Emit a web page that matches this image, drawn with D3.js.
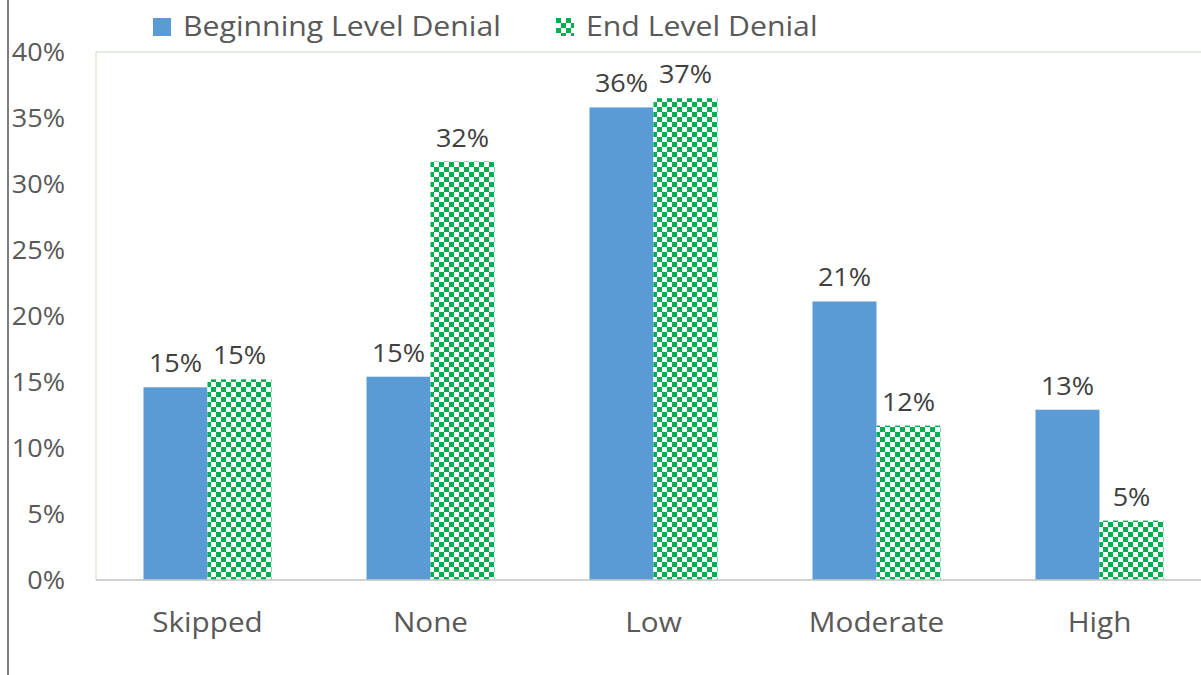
<!DOCTYPE html>
<html>
<head>
<meta charset="utf-8">
<script src="https://cdn.jsdelivr.net/npm/d3@7"></script>
<style>
  body { margin: 0; background: #fff; }
  text { font-family: "Open Sans", sans-serif; fill: #595959; }
</style>
</head>
<body>
<div id="chart"></div>
<script>
// chart data
var categories = ["Skipped", "None", "Low", "Moderate", "High"];
var seriesNames = ["Beginning Level Denial", "End Level Denial"];
var beginValues = [14.6, 15.4, 35.8, 21.1, 12.9];
var endValues = [15.2, 31.7, 36.5, 11.7, 4.5];
var beginLabels = ["15%", "15%", "36%", "21%", "13%"];
var endLabels = ["15%", "32%", "37%", "12%", "5%"];
var yTicks = [0, 5, 10, 15, 20, 25, 30, 35, 40];

var svgWidth = 1201;
var svgHeight = 675;
var margin = { top: 52, right: -10, bottom: 95, left: 96 };
var width = svgWidth - margin.left - margin.right;
var height = svgHeight - margin.top - margin.bottom;

// text in the source looks a bit wider than Open Sans
var sx = 1.1;

var svg = d3.select("#chart")
    .append("svg")
    .attr("width", svgWidth)
    .attr("height", svgHeight);

// checker pattern for the second series
var defs = svg.append("defs");
var pat = defs.append("pattern")
    .attr("id", "checker")
    .attr("patternUnits", "userSpaceOnUse")
    .attr("width", 10)
    .attr("height", 10);
pat.append("rect").attr("width", 10).attr("height", 10).attr("fill", "#fff");
pat.append("rect").attr("width", 5).attr("height", 5).attr("fill", "#00b050");
pat.append("rect").attr("x", 5).attr("y", 5).attr("width", 5).attr("height", 5).attr("fill", "#00b050");

// left frame line
svg.append("line")
    .attr("x1", 8).attr("x2", 8)
    .attr("y1", 0).attr("y2", svgHeight)
    .attr("stroke", "#7f7f7f")
    .attr("stroke-width", 2);

var chartGroup = svg.append("g")
    .attr("transform", `translate(${margin.left}, ${margin.top})`);

var x0 = d3.scaleBand()
    .domain(categories)
    .range([0, width])
    .paddingInner(0)
    .paddingOuter(0);

var x1 = d3.scaleBand()
    .domain(seriesNames)
    .range([x0.bandwidth() * 0.213, x0.bandwidth() * 0.787]);

var y = d3.scaleLinear()
    .domain([0, 40])
    .range([height, 0]);

// plot area border
chartGroup.append("rect")
    .attr("x", 0).attr("y", 0)
    .attr("width", width).attr("height", height)
    .attr("fill", "none")
    .attr("stroke", "#dcebd5")
    .attr("stroke-width", 1.5);

// y axis labels
var leftAxis = d3.axisLeft(y)
    .tickValues(yTicks)
    .tickFormat(d => d + "%")
    .tickSize(0)
    .tickPadding(31);

var yAxis = chartGroup.append("g").call(leftAxis);
yAxis.select(".domain").remove();
yAxis.selectAll("text")
    .attr("x", -31 / 1.08)
    .attr("transform", "scale(1.08,1)")
    .style("font-size", "25px")
    .attr("fill", "#595959");

var rows = categories.map((c, i) => ({
    cat: c,
    values: [
        { s: seriesNames[0], v: beginValues[i], label: beginLabels[i] },
        { s: seriesNames[1], v: endValues[i], label: endLabels[i] }
    ]
}));

var groups = chartGroup.selectAll(".grp")
    .data(rows)
    .enter()
    .append("g")
    .attr("transform", d => `translate(${x0(d.cat)}, 0)`);

groups.selectAll("rect")
    .data(d => d.values)
    .enter()
    .append("rect")
    .attr("x", d => x1(d.s))
    .attr("y", d => y(d.v))
    .attr("width", x1.bandwidth())
    .attr("height", d => height - y(d.v))
    .attr("fill", (d, i) => i === 0 ? "#5b9bd5" : "url(#checker)");

// data labels
groups.selectAll(".lbl")
    .data(d => d.values)
    .enter()
    .append("text")
    .attr("class", "lbl")
    .attr("transform", d => `translate(${x1(d.s) + x1.bandwidth() / 2}, ${y(d.v) - 15}) scale(1.08,1)`)
    .attr("text-anchor", "middle")
    .style("font-size", "25px")
    .style("fill", "#404040")
    .text(d => d.label);

// x axis
chartGroup.append("line")
    .attr("x1", 0).attr("x2", width)
    .attr("y1", height).attr("y2", height)
    .attr("stroke", "#c8c8c8")
    .attr("stroke-width", 1.5);

chartGroup.selectAll(".cat")
    .data(categories)
    .enter()
    .append("text")
    .attr("class", "cat")
    .attr("transform", d => `translate(${x0(d) + x0.bandwidth() / 2}, ${height + 52}) scale(${sx},1)`)
    .attr("text-anchor", "middle")
    .style("font-size", "27px")
    .text(d => d);

// legend
var legendX = [153, 556];
var legend = svg.selectAll(".legend")
    .data(seriesNames)
    .enter()
    .append("g")
    .attr("transform", (d, i) => `translate(${legendX[i]}, 18)`);

legend.append("rect")
    .attr("width", 18)
    .attr("height", 18)
    .attr("fill", (d, i) => i === 0 ? "#5b9bd5" : "url(#checker)");

legend.append("text")
    .attr("transform", "translate(30, 18) scale(1.12,1)")
    .style("font-size", "27px")
    .text(d => d);
</script>
</body>
</html>
